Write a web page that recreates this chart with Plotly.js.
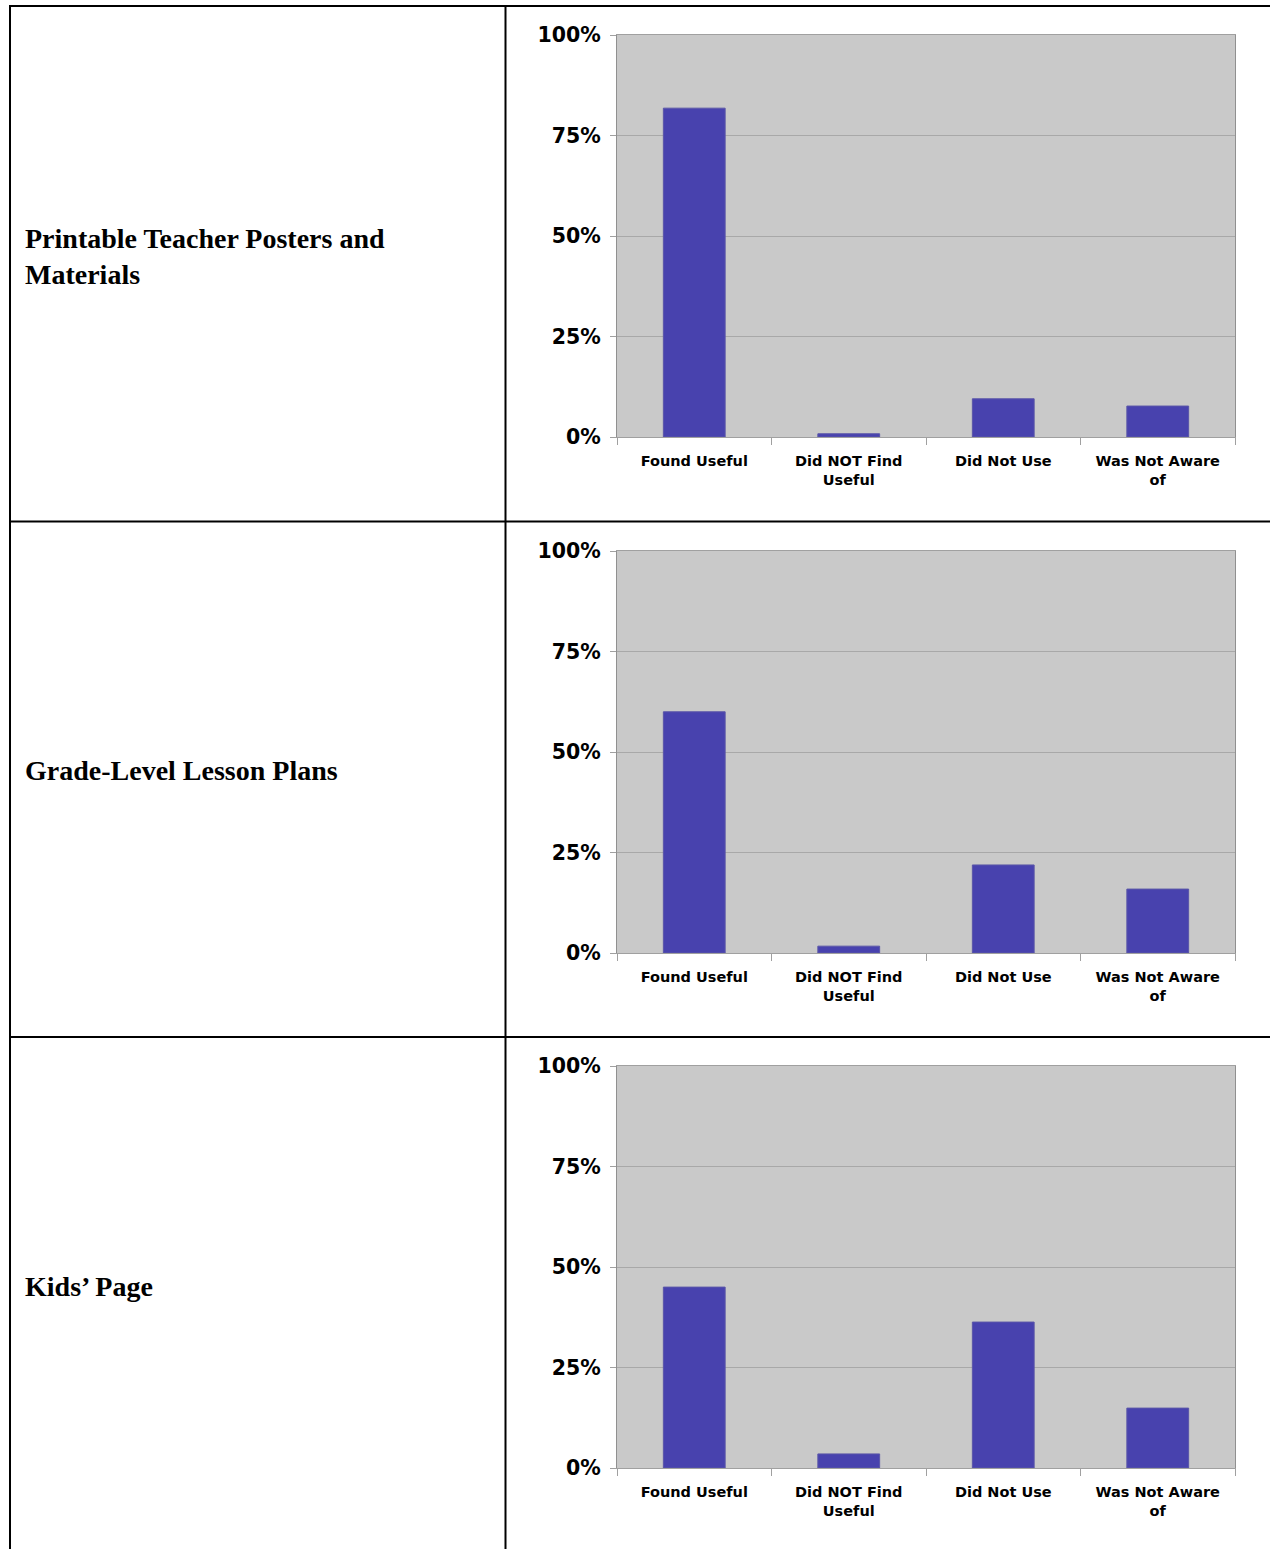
<!DOCTYPE html>
<html>
<head>
<meta charset="utf-8">
<script src="https://cdn.plot.ly/plotly-3.0.1.min.js"></script>
<style>
html,body{margin:0;padding:0;background:#fff;}
#chart{width:1270px;height:1549px;}
</style>
</head>
<body>
<div id="chart"></div>
<script>
const categories = ["Found Useful", "Did NOT Find<br>Useful", "Did Not Use", "Was Not Aware<br>of"];
const rowLabels = ["Printable Teacher Posters and<br>Materials", "Grade-Level Lesson Plans", "Kids’ Page"];
const postersValues = [81.8, 0.8, 9.5, 7.7];
const lessonPlansValues = [60.0, 1.7, 21.9, 15.9];
const kidsPageValues = [45.0, 3.5, 36.3, 14.9];
const yTickVals = [0, 25, 50, 75, 100];
const yTickText = ["0%", "25%", "50%", "75%", "100%"];

const W = 1270, H = 1549;
const seriesList = [postersValues, lessonPlansValues, kidsPageValues];
const plotTops = [35, 551, 1066];
const plotH = 402;
const plotLeft = 617, plotRight = 1235;
const labelCenters = [256, 771, 1286];

const traces = seriesList.map((vals, i) => ({
  type: 'bar',
  x: categories,
  y: vals,
  xaxis: i === 0 ? 'x' : 'x' + (i + 1),
  yaxis: i === 0 ? 'y' : 'y' + (i + 1),
  marker: {color: '#4842AE', line: {color: '#5a56a8', width: 1}},
  hoverinfo: 'x+y',
  showlegend: false
}));

const layout = {
  width: W, height: H,
  margin: {l: 0, r: 0, t: 0, b: 0},
  paper_bgcolor: '#ffffff',
  plot_bgcolor: '#C9C9C9',
  bargap: 0.6,
  shapes: [],
  annotations: []
};

const xFont = {family: 'DejaVu Sans, Verdana, sans-serif', size: 14.5, color: '#000', weight: 'bold'};
const yFont = {family: 'DejaVu Sans, Verdana, sans-serif', size: 20.5, color: '#000', weight: 'bold'};

for (let i = 0; i < 3; i++) {
  const sfx = i === 0 ? '' : String(i + 1);
  const top = plotTops[i], bot = top + plotH;
  layout['xaxis' + sfx] = {
    domain: [plotLeft / W, plotRight / W],
    anchor: 'y' + sfx,
    type: 'category',
    showline: true, linecolor: '#a0a0a0', linewidth: 1, mirror: true,
    ticks: 'outside', tickson: 'boundaries', ticklen: 7, tickcolor: '#a0a0a0',
    showgrid: false,
    tickfont: xFont,
    ticklabelstandoff: 11,
    fixedrange: true
  };
  layout['yaxis' + sfx] = {
    domain: [(H - bot) / H, (H - top) / H],
    anchor: 'x' + sfx,
    range: [0, 100],
    tickvals: yTickVals, ticktext: yTickText,
    showline: true, linecolor: '#909090', linewidth: 1, mirror: true,
    ticks: 'outside', ticklen: 6, tickcolor: '#a0a0a0',
    showgrid: true, gridcolor: '#a8a8a8', gridwidth: 1,
    zeroline: false,
    tickfont: yFont,
    ticklabelstandoff: 5,
    fixedrange: true
  };
  layout.annotations.push({
    xref: 'paper', yref: 'paper',
    x: 23 / W, y: (H - labelCenters[i]) / H,
    xanchor: 'left', yanchor: 'middle', align: 'left',
    text: rowLabels[i], showarrow: false,
    font: {family: 'Liberation Serif, Times New Roman, serif', size: 28, color: '#000', weight: 'bold'}
  });
}

function hline(y, x0, x1) {
  layout.shapes.push({type: 'line', xref: 'paper', yref: 'paper', x0: x0 / W, x1: x1 / W, y0: (H - y) / H, y1: (H - y) / H, line: {color: '#000', width: 2}});
}
function vline(x, y0, y1) {
  layout.shapes.push({type: 'line', xref: 'paper', yref: 'paper', x0: x / W, x1: x / W, y0: (H - y0) / H, y1: (H - y1) / H, line: {color: '#000', width: 2}});
}
hline(6, 9, 1270);
hline(521.5, 9, 1270);
hline(1037, 9, 1270);
vline(10, 5, 1549);
vline(505.5, 5, 1549);

Plotly.newPlot('chart', traces, layout, {displayModeBar: false, staticPlot: true});
</script>
</body>
</html>
